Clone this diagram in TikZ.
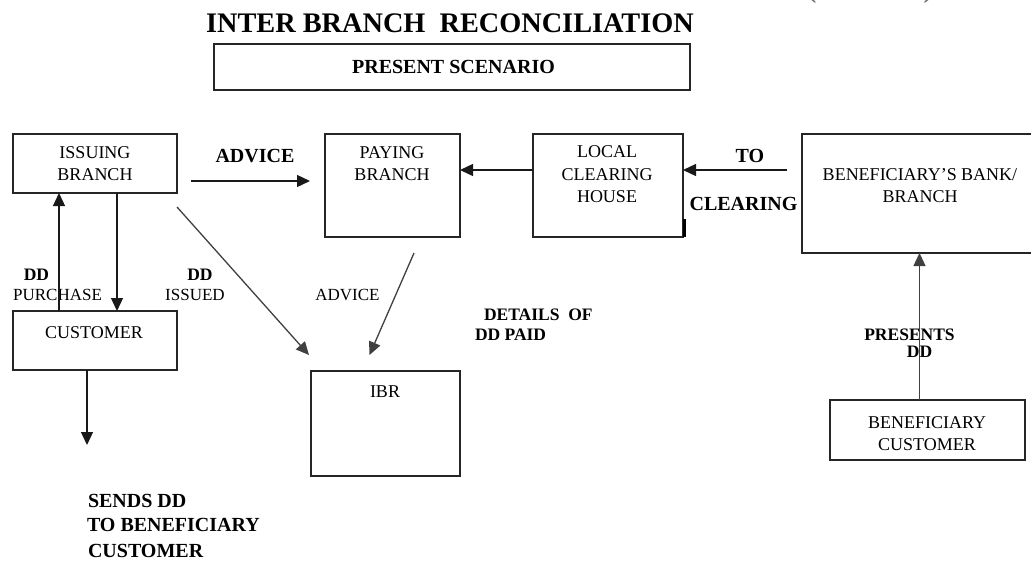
\documentclass[tikz,border=0pt]{standalone}
\usepackage{fontspec}
\setmainfont{Liberation Serif}
\usetikzlibrary{arrows.meta,calc}
\begin{document}
\begin{tikzpicture}[x=1pt,y=-1pt]
\tikzset{
  every node/.style={inner sep=0pt, outer sep=0pt},
  box/.style={draw=black!85, line width=1.4pt},
  boxtxt/.style={anchor=base, font=\fontsize{18}{21}\selectfont},
  lbl/.style={anchor=base, font=\fontsize{17}{20}\selectfont},
  blbl/.style={anchor=base, font=\bfseries\fontsize{20}{24}\selectfont},
  sblbl/.style={anchor=base, font=\bfseries\fontsize{17.5}{20}\selectfont},
  arr/.style={-{Triangle[length=13pt,width=12pt]}, line width=1.3pt, draw=black!90},
}
\useasboundingbox (0,0) rectangle (1031,560);

% heading
\node[anchor=base, font=\bfseries\fontsize{28.3}{32}\selectfont] (title) at (450,32) {INTER BRANCH\ \ RECONCILIATION};
\node[anchor=base, font=\bfseries\fontsize{28}{32}\selectfont, text=black!55] (paren) at (870,-3) {(\hspace{107pt})};
\node[box, minimum width=476pt, minimum height=46pt] (present) at (452,67) {};
\node[anchor=base, font=\bfseries\fontsize{20}{24}\selectfont] (presentT) at (453.5,73) {PRESENT SCENARIO};

% boxes
\node[box, minimum width=164pt, minimum height=59pt] (issuing) at (95,163.5) {};
\node[box, minimum width=135pt, minimum height=103pt] (paying) at (392.5,185.5) {};
\node[box, minimum width=150pt, minimum height=103pt] (lch) at (608,185.5) {};
\node[box, minimum width=238pt, minimum height=119pt] (bb) at (921,193.5) {};
\node[box, minimum width=164pt, minimum height=59pt] (customer) at (95,340.5) {};
\node[box, minimum width=149pt, minimum height=105pt] (ibr) at (385.5,423.5) {};
\node[box, minimum width=195pt, minimum height=60pt] (bc) at (927.5,430) {};

% box texts
\node[boxtxt] (issuingA) at (95,158) {ISSUING};
\node[boxtxt] (issuingB) at (95,180) {BRANCH};
\node[boxtxt] (payingA) at (392,158) {PAYING};
\node[boxtxt] (payingB) at (392,180) {BRANCH};
\node[boxtxt] (lchA) at (607,157) {LOCAL};
\node[boxtxt] (lchB) at (607,180) {CLEARING};
\node[boxtxt] (lchC) at (607,202) {HOUSE};
\node[boxtxt] (bbA) at (920,180) {BENEFICIARY’S BANK/};
\node[boxtxt] (bbB) at (920,202) {BRANCH};
\node[boxtxt] (customerT) at (94,338) {CUSTOMER};
\node[boxtxt] (ibrT) at (385,397) {IBR};
\node[boxtxt] (bcA) at (927,428) {BENEFICIARY};
\node[boxtxt] (bcB) at (927,450) {CUSTOMER};

% connector labels
\node[blbl] (advB) at (255,162) {ADVICE};
\node[blbl] (toL) at (750,162) {TO};
\node[blbl] (clrL) at (743.5,210) {CLEARING};
\node[sblbl] (ddP) at (36.5,280) {DD};
\node[lbl] (purL) at (57.5,300) {PURCHASE};
\node[sblbl] (ddI) at (200,280) {DD};
\node[lbl] (issL) at (195,300) {ISSUED};
\node[lbl] (advR) at (347.5,300) {ADVICE};
\node[sblbl, anchor=base west] (detA) at (484,320) {DETAILS\ \ OF};
\node[sblbl, anchor=base west] (detB) at (475,340) {DD PAID};
\node[sblbl] (presA) at (909.5,340) {PRESENTS};
\node[sblbl] (presB) at (919.5,357) {DD};
\node[blbl, anchor=base west] (sendA) at (88,507) {SENDS DD};
\node[blbl, anchor=base west] (sendB) at (87,531) {TO BENEFICIARY};
\node[blbl, anchor=base west] (sendC) at (88,557) {CUSTOMER};

% connectors
\coordinate (sendEnd) at (87,445);
\draw[arr] ($(issuing.east)+(14,17.5)$) -- ($(paying.west)+(-15,-4.5)$);
\draw[arr] ($(lch.west)+(0,-15.5)$) -- ($(paying.east)+(0,-15.5)$);
\draw[arr] ($(bb.west)+(-15,-23.5)$) -- ($(lch.east)+(0,-15.5)$);
\draw[arr] ($(customer.north)+(-36,0)$) -- ($(issuing.south)+(-36,0)$);
\draw[arr] ($(issuing.south)+(22,0)$) -- ($(customer.north)+(22,0)$);
\draw[arr, draw=black!75] ($(issuing.south east)+(0,14)$) -- ($(ibr.north west)+(-2,-16)$);
\draw[arr, draw=black!75] ($(paying.south)+(21.5,16)$) -- ($(ibr.north)+(-16,-16)$);
\draw[arr, draw=black!75] ($(bc.north)+(-8,0)$) -- ($(bb.south)+(-1.5,0)$);
\draw[arr] ($(customer.south)+(-8,0)$) -- (sendEnd);

% small stroke at the clearing house corner
\draw[line width=2.2pt] ($(lch.south east)+(1.5,0)$) -- ++(0,-18);
\end{tikzpicture}
\end{document}
